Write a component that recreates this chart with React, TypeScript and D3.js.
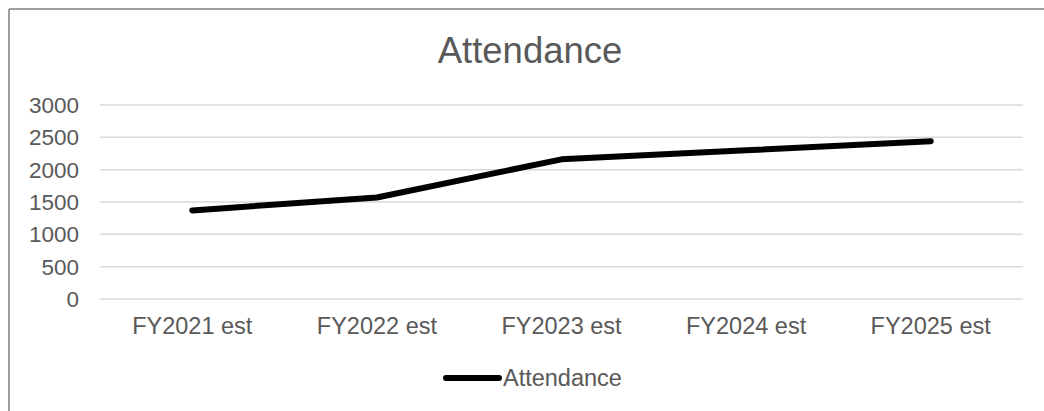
import React from "react";
import * as d3 from "d3";

const categories = ["FY2021 est", "FY2022 est", "FY2023 est", "FY2024 est", "FY2025 est"];
const attendance = [1370, 1570, 2160, 2300, 2440];
const yTicks = [0, 500, 1000, 1500, 2000, 2500, 3000];
const title = "Attendance";
const seriesName = "Attendance";

const W = 1044;
const H = 411;
const FONT = "Liberation Sans, Arial, sans-serif";

export default function App() {
  const x = d3.scaleBand<string>().domain(categories).range([100, 1023]);
  const y = d3.scaleLinear().domain([0, 3000]).range([299, 105]);
  const line = d3
    .line<number>()
    .x((_, i) => (x(categories[i]) as number) + x.bandwidth() / 2)
    .y((d) => y(d));

  return (
    <svg
      width={W}
      height={H}
      style={{ position: "absolute", left: 0, top: 0, background: "#fff" }}
    >
      <rect x={0} y={0} width={W} height={H} fill="#fff" />
      <line x1={9} y1={9} x2={W} y2={9} stroke="#7f7f7f" strokeWidth={1.5} />
      <line x1={9} y1={9} x2={9} y2={H} stroke="#7f7f7f" strokeWidth={1.5} />
      <text
        x={530}
        y={63}
        textAnchor="middle"
        fontFamily={FONT}
        fontSize={36.5}
        fill="#595959"
      >
        {title}
      </text>
      {yTicks.map((t) => (
        <g key={t}>
          <line x1={100} x2={1023} y1={y(t)} y2={y(t)} stroke="#d9d9d9" strokeWidth={1.5} />
          <text
            x={79}
            y={y(t)}
            dy="0.35em"
            textAnchor="end"
            fontFamily={FONT}
            fontSize={22.5}
            fill="#595959"
          >
            {t}
          </text>
        </g>
      ))}
      {categories.map((c) => (
        <text
          key={c}
          x={(x(c) as number) + x.bandwidth() / 2}
          y={334}
          textAnchor="middle"
          fontFamily={FONT}
          fontSize={23.5}
          fill="#595959"
        >
          {c}
        </text>
      ))}
      <path
        d={line(attendance) || ""}
        fill="none"
        stroke="#000"
        strokeWidth={6}
        strokeLinecap="round"
        strokeLinejoin="round"
      />
      <line x1={446} x2={499} y1={378} y2={378} stroke="#000" strokeWidth={6} strokeLinecap="round" />
      <text x={503} y={386} fontFamily={FONT} fontSize={23.5} fill="#595959">
        {seriesName}
      </text>
    </svg>
  );
}
